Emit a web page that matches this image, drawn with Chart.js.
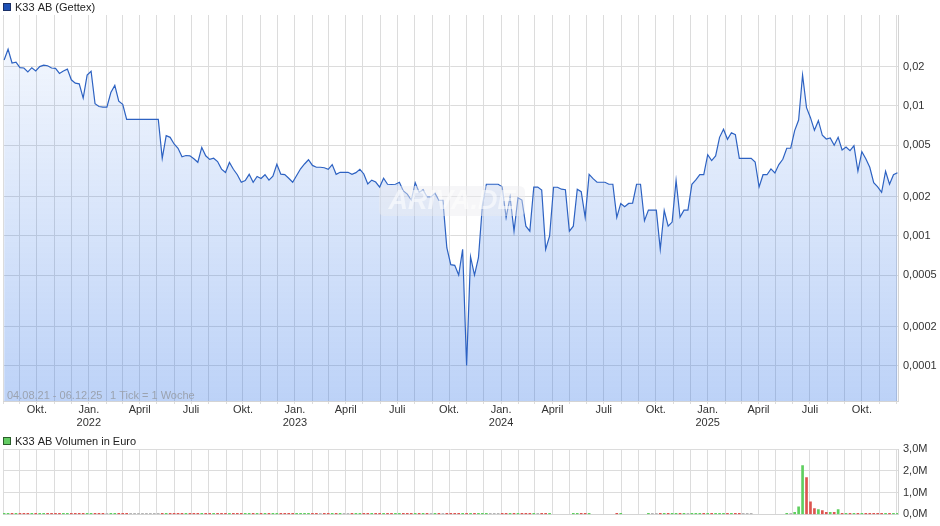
<!DOCTYPE html>
<html><head><meta charset="utf-8">
<script src="https://cdn.jsdelivr.net/npm/chart.js@4.4.1/dist/chart.umd.min.js"></script>
<style>
html,body{margin:0;padding:0;background:#fff;}
#wrap{position:relative;width:940px;height:526px;overflow:hidden;}
#c1{position:absolute;left:0;top:0;}
#c2{position:absolute;left:0;top:430px;}
</style></head><body>
<div id="wrap"><canvas id="c1" width="940" height="430"></canvas><canvas id="c2" width="940" height="96"></canvas></div>
<script>
// ---- data ----
const seriesName = 'K33 AB (Gettex)';
const volumeName = 'K33 AB Volumen in Euro';
const startDate = '2021-08-04';
const rangeText = '04.08.21 - 06.12.25';
const tickText = '1 Tick = 1 Woche';
// one value per week starting at startDate (EUR)
const weeklyPrices = [
  0.0226,0.0273,0.0214,0.0217,0.0197,0.0196,0.0183,0.0197,0.0186,0.0201,
  0.0206,0.0204,0.0196,0.0195,0.0178,0.0186,0.0192,0.0159,0.0150,0.0148,
  0.0115,0.0173,0.0185,0.0104,0.0099,0.0098,0.0098,0.0127,0.0144,0.0109,
  0.0103,0.0079,0.0079,0.0079,0.0079,0.0079,0.0079,0.0079,0.0079,0.0079,
  0.00396,0.00591,0.00574,0.0051,0.00473,0.00407,0.00416,0.00414,0.00393,0.00369,
  0.0048,0.00414,0.00388,0.00396,0.00374,0.00327,0.00308,0.00368,0.00326,0.00296,
  0.00259,0.00267,0.00298,0.00259,0.00287,0.00277,0.00296,0.00269,0.00289,0.00356,
  0.00299,0.00297,0.00278,0.00259,0.00292,0.00329,0.00358,0.00386,0.00349,0.00338,
  0.00338,0.00335,0.00326,0.00354,0.00298,0.00309,0.00309,0.00309,0.00298,0.00307,
  0.00326,0.0030,0.00251,0.00269,0.0026,0.00238,0.00278,0.0025,0.00249,0.0025,
  0.00259,0.00222,0.0021,0.00189,0.00257,0.00217,0.00227,0.0020,0.0020,0.00213,
  0.00188,0.00188,0.000813,0.000602,0.000595,0.000501,0.00079,0.000101,0.000693,0.000501,
  0.000681,0.00172,0.0025,0.0025,0.0025,0.0025,0.00239,0.00139,0.00199,0.00109,
  0.00197,0.00189,0.00119,0.00109,0.00238,0.00238,0.00226,0.00079,0.0010,0.00237,
  0.00237,0.00229,0.00227,0.00109,0.00119,0.00229,0.00219,0.00139,0.00298,0.00276,
  0.00259,0.00259,0.00259,0.0025,0.0025,0.00139,0.00178,0.00168,0.00178,0.00179,
  0.0025,0.0025,0.00131,0.00158,0.00158,0.00158,0.00079,0.00157,0.00119,0.00128,
  0.00267,0.0014,0.00158,0.00158,0.0025,0.0027,0.00297,0.00296,0.00422,0.0038,
  0.00413,0.00574,0.00662,0.00554,0.00623,0.00601,0.00396,0.00396,0.00396,0.00396,
  0.00371,0.00238,0.00296,0.00296,0.00328,0.00305,0.00354,0.00389,0.00473,0.00473,
  0.00646,0.0078,0.0173,0.0097,0.00813,0.0065,0.00771,0.00595,0.00557,0.00567,
  0.00499,0.00574,0.00459,0.00484,0.00453,0.00495,0.00315,0.00445,0.00393,0.00338,
  0.00257,0.00239,0.00217,0.00315,0.0025,0.00296,0.00307
];
// weekly volume in million EUR (0 = no trade)
const weeklyVolumesM = [
  0.01,0.01,0.01,0.01,0.01,0.01,0.01,0.01,0.01,0.01,
  0.01,0.01,0.01,0.01,0.01,0.01,0.01,0.01,0.01,0.01,
  0.01,0.01,0.01,0.01,0.01,0.01,0.01,0.01,0.01,0.01,
  0.01,0.01,0.01,0.01,0.01,0.01,0.01,0.01,0.01,0.01,
  0.01,0.01,0.01,0.01,0.01,0.01,0.01,0.01,0.01,0.01,
  0.01,0.01,0.01,0.01,0.01,0.01,0.01,0.01,0.01,0.01,
  0.01,0.01,0.01,0.01,0.01,0.01,0.01,0.01,0.01,0.01,
  0.01,0.01,0.01,0.01,0.01,0.01,0.01,0.01,0.01,0.01,
  0.01,0.01,0.01,0.01,0.01,0.01,0.01,0.01,0.01,0.01,
  0.01,0.01,0.01,0.01,0.01,0.01,0.01,0.01,0.01,0.01,
  0.01,0.01,0.01,0.01,0.01,0.01,0.01,0.01,0.01,0.01,
  0.01,0.01,0.01,0.01,0.01,0.01,0.01,0.01,0.01,0.01,
  0.01,0.01,0.01,0.01,0.01,0.01,0.01,0.01,0.01,0.01,
  0.01,0.01,0.01,0.01,0.01,0.01,0.01,0.01,0.01,0,
  0,0,0,0,0.01,0.01,0.01,0.01,0.01,0,
  0,0,0,0,0,0.01,0.01,0,0,0,
  0,0,0,0.01,0.01,0.01,0.01,0.01,0.01,0.01,
  0.01,0.01,0.01,0.01,0.01,0.01,0.01,0.01,0.01,0.01,
  0.01,0.01,0.01,0.01,0.01,0.01,0.01,0.01,0.01,0.01,
  0,0,0,0,0,0,0,0,0.01,0.02,
  0.1,0.35,2.24,1.69,0.58,0.27,0.22,0.18,0.1,0.1,
  0.1,0.22,0.05,0.03,0.05,0.05,0.05,0.01,0.01,0.01,
  0.01,0.01,0.01,0.01,0.01,0.01,0.01
];
const yTickValues = [0.0001,0.0002,0.0005,0.001,0.002,0.005,0.01,0.02];
const yTickLabels = ['0,0001','0,0002','0,0005','0,001','0,002','0,005','0,01','0,02'];
const volTickValues = [0,1,2,3];
const volTickLabels = ['0,0M','1,0M','2,0M','3,0M'];
const monthNames = ['Jan.','Feb.','März','April','Mai','Juni','Juli','Aug.','Sep.','Okt.','Nov.','Dez.'];
const shownMonths = [0,3,6,9];

// ---- helpers ----
const DAY = 86400000;
const t0 = Date.parse(startDate + 'T00:00:00Z');
const X_MIN = -2, X_MAX = 1583;
const monthTicks = [{day: X_MIN, label: ''}];
for (let y = 2021; y <= 2025; y++) {
  for (let m = 0; m < 12; m++) {
    const d = (Date.UTC(y, m, 1) - t0) / DAY;
    if (d <= X_MIN || d > X_MAX) continue;
    let label = '';
    if (shownMonths.includes(m)) label = (m === 0) ? [monthNames[m], String(y)] : monthNames[m];
    monthTicks.push({day: d, label});
  }
}
const FONT = "'Liberation Sans', Arial, sans-serif";
const priceData = weeklyPrices.map((v, i) => ({x: i * 7, y: v}));
const volData = weeklyVolumesM.map((v, i) => ({x: i * 7, y: v > 0 ? v * 1e6 : null}));
const volColors = weeklyPrices.map((v, i) => {
  if (i === 0) return '#5fcf5f';
  if (v > weeklyPrices[i - 1]) return '#5fcf5f';
  if (v < weeklyPrices[i - 1]) return '#dd5550';
  return '#b5b5b5';
});

const GRID = '#dcdcdc';

const textPlugin1 = {
  id: 'texts1',
  afterDatasetsDraw(chart) {
    const ctx = chart.ctx;
    ctx.save();
    // watermark
    ctx.fillStyle = 'rgba(235,235,240,0.45)';
    const rx = 379, ry = 186, rw = 146, rh = 30, r = 6;
    ctx.beginPath();
    ctx.moveTo(rx + r, ry); ctx.lineTo(rx + rw - r, ry); ctx.quadraticCurveTo(rx + rw, ry, rx + rw, ry + r);
    ctx.lineTo(rx + rw, ry + rh - r); ctx.quadraticCurveTo(rx + rw, ry + rh, rx + rw - r, ry + rh);
    ctx.lineTo(rx + r, ry + rh); ctx.quadraticCurveTo(rx, ry + rh, rx, ry + rh - r);
    ctx.lineTo(rx, ry + r); ctx.quadraticCurveTo(rx, ry, rx + r, ry);
    ctx.fill();
    ctx.font = "italic bold 27px " + FONT;
    ctx.fillStyle = 'rgba(255,255,255,0.55)';
    ctx.textAlign = 'center'; ctx.textBaseline = 'middle';
    ctx.fillText('ARIVA.DE', 452, 202);
    ctx.restore();
  },
  afterDraw(chart) {
    const ctx = chart.ctx;
    ctx.save();
    ctx.fillStyle = '#1d50b5';
    ctx.strokeStyle = '#1a2f66';
    ctx.lineWidth = 1;
    ctx.fillRect(3.5, 3.5, 7, 7);
    ctx.strokeRect(3.5, 3.5, 7, 7);
    ctx.font = "11px " + FONT;
    ctx.fillStyle = '#222';
    ctx.textBaseline = 'alphabetic';
    ctx.fillText(seriesName, 15, 11);
    ctx.fillStyle = '#9ba3b0';
    ctx.fillText(rangeText, 7, 399);
    ctx.fillText(tickText, 110, 399);
    ctx.restore();
  }
};
const textPlugin2 = {
  id: 'texts2',
  afterDraw(chart) {
    const ctx = chart.ctx;
    ctx.save();
    ctx.fillStyle = '#63cc63';
    ctx.strokeStyle = '#2b5e2b';
    ctx.lineWidth = 1;
    ctx.fillRect(3.5, 7.5, 7, 7);
    ctx.strokeRect(3.5, 7.5, 7, 7);
    ctx.font = "11px " + FONT;
    ctx.fillStyle = '#222';
    ctx.fillText(volumeName, 15, 14.5);
    ctx.restore();
  }
};

Chart.defaults.font.family = FONT;
Chart.defaults.font.size = 11;
Chart.defaults.color = '#333';

new Chart(document.getElementById('c1'), {
  type: 'line',
  data: { datasets: [{
    data: priceData,
    borderColor: '#2d62c2',
    borderWidth: 1.2,
    pointRadius: 0,
    tension: 0,
    fill: 'start',
    backgroundColor(ctx) {
      const ca = ctx.chart.chartArea;
      if (!ca) return 'rgba(40,110,230,0.15)';
      const g = ctx.chart.ctx.createLinearGradient(0, ca.top, 0, ca.bottom);
      g.addColorStop(0, 'rgba(40,110,230,0.04)');
      g.addColorStop(1, 'rgba(40,110,230,0.31)');
      return g;
    }
  }]},
  options: {
    responsive: false, animation: false, devicePixelRatio: 1,
    layout: { padding: { left: 3, top: 15, right: 0, bottom: 0 } },
    plugins: { legend: { display: false }, tooltip: { enabled: false } },
    scales: {
      x: {
        type: 'linear', min: X_MIN, max: X_MAX,
        afterBuildTicks: s => { s.ticks = monthTicks.map(t => ({value: t.day})); },
        afterFit: s => { s.height = 29; },
        ticks: { autoSkip: false, maxRotation: 0, minRotation: 0, padding: 0, color: '#333',
          font: { size: 11, lineHeight: 1.15 },
          callback: (v, i) => monthTicks[i] ? monthTicks[i].label : '' },
        grid: { color: GRID, tickLength: 3, lineWidth: 1 },
        border: { display: true, color: '#d4d4d4' }
      },
      y: {
        type: 'logarithmic', position: 'right', min: 0.0000538, max: 0.0501,
        afterBuildTicks: s => { s.ticks = yTickValues.map(v => ({value: v})); },
        afterFit: s => { s.width = 42; },
        ticks: { autoSkip: false, padding: 5, color: '#333', font: { size: 11 },
          callback: (v, i) => yTickLabels[i] },
        grid: { color: GRID, drawTicks: false, lineWidth: 1 },
        border: { display: true, color: '#d4d4d4' }
      }
    }
  },
  plugins: [textPlugin1]
});

new Chart(document.getElementById('c2'), {
  type: 'bar',
  data: { datasets: [{
    data: volData,
    backgroundColor: volColors,
    barThickness: 2,
    minBarLength: 1,
    grouped: false
  }]},
  options: {
    responsive: false, animation: false, devicePixelRatio: 1,
    layout: { padding: { left: 3, top: 19, right: 0, bottom: 0 } },
    plugins: { legend: { display: false }, tooltip: { enabled: false } },
    scales: {
      x: {
        type: 'linear', min: X_MIN, max: X_MAX, offset: false,
        afterBuildTicks: s => { s.ticks = monthTicks.map(t => ({value: t.day})); },
        afterFit: s => { s.height = 10; },
        ticks: { display: false },
        grid: { color: GRID, drawTicks: false, lineWidth: 1, offset: false },
        border: { display: true, color: '#d4d4d4' }
      },
      y: {
        position: 'right', min: 0, max: 3e6,
        afterBuildTicks: s => { s.ticks = volTickValues.map(v => ({value: v * 1e6})); },
        afterFit: s => { s.width = 42; },
        ticks: { autoSkip: false, padding: 5, color: '#333', font: { size: 11 },
          callback: (v, i) => volTickLabels[i] },
        grid: { color: GRID, drawTicks: false, lineWidth: 1 },
        border: { display: true, color: '#d4d4d4' }
      }
    }
  },
  plugins: [textPlugin2]
});
</script>
</body></html>
